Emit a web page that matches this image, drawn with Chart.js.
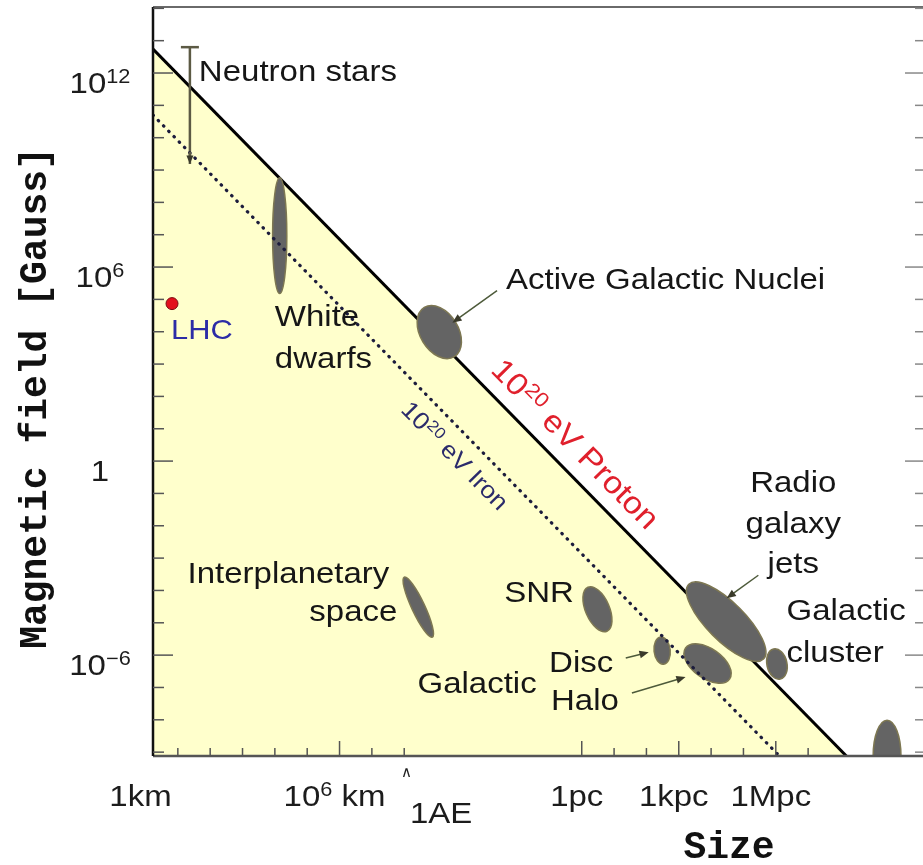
<!DOCTYPE html>
<html>
<head>
<meta charset="utf-8">
<script src="https://cdn.jsdelivr.net/npm/chart.js@4.4.0/dist/chart.umd.min.js"></script>
<style>
  html, body { margin: 0; padding: 0; background: #fff; overflow: hidden; }
  #wrap { width: 930px; height: 865px; }
</style>
</head>
<body>
<div id="wrap"><canvas id="hillas" width="930" height="865"></canvas></div>
<script>
// axis ranges: size in km, field in Gauss (both log)
const sizeRange = [1.706, 1.1e24];
const fieldRange = [7.6e-10, 1.1e14];

// 10^20 eV limits
const protonLine = [{x: 1.706, y: 5.5e12}, {x: 4.7e21, y: 7.6e-10}];
const ironLine = [{x: 1.706, y: 5.0e10}, {x: 4.0e19, y: 7.6e-10}];

const lhc = [{x: 6.6, y: 7.4e4}];
const neutronStars = [{x: 23.6, y: 6.3e12}, {x: 23.6, y: 1.55e9}];

// source regions, major axis ends in log10(km), log10(G); half width in decades
const regionNames  = ['White dwarfs', 'AGN', 'Interplanetary space', 'SNR', 'Disc', 'Halo', 'Radio galaxy jets', 'Galactic cluster', 'Supercluster'];
const regionSizeA  = [4.15, 8.62, 8.00, 13.68, 15.93, 16.70, 16.80, 19.42, 22.93];
const regionFieldA = [8.76, 4.75, -3.59, -3.90, -5.44, -5.78, -3.81, -5.81, -8.01];
const regionSizeB  = [4.15, 9.55, 8.87, 14.27, 16.02, 18.06, 19.11, 19.63, 22.93];
const regionFieldB = [5.18, 3.23, -5.44, -5.26, -6.28, -6.74, -6.12, -6.74, -10.23];
const regionWidth  = [0.22, 0.59, 0.20, 0.37, 0.25, 0.46, 0.59, 0.31, 0.43];

// pointer arrows (log10 km, log10 G), tail -> head
const pointerFrom = [[10.87, 5.27], [18.95, -3.53], [14.85, -6.09], [15.04, -7.17]];
const pointerTo   = [[9.49, 4.28], [17.97, -4.24], [15.56, -5.91], [16.70, -6.68]];

// ticks
const yMajorTicks = [1e12, 1e6, 1, 1e-6];
const yTickLabels = ['10^{12}', '10^{6}', '1', '10^{\u22126}'];
const yMinorTicks = [1e-9, 1e-8, 1e-7, 1e-6, 1e-5, 1e-4, 1e-3, 1e-2, 1e-1, 1, 1e1, 1e2, 1e3, 1e4, 1e5, 1e6, 1e7, 1e8, 1e9, 1e10, 1e11, 1e12, 1e13, 1e14];
const pc = 3.086e13;
const AU = 1.496e8;
const xMinorTicks = [1e1, 1e2, 1e3, 1e4, 1e5, 1e6, 1e7, 1e8, pc, pc*1e1, pc*1e2, pc*1e3, pc*1e4, pc*1e5, pc*1e6, pc*1e7];
const xMajorTicks = [1e6, pc, pc*1e3, pc*1e6];
const xTickValues = [1, 1e6, pc, pc*1e3, pc*1e6];
const xTickLabels = ['1km', '10^{6} km', '1pc', '1kpc', '1Mpc'];

const L = v => Math.pow(10, v);
const SANS = '"Liberation Sans", Arial, sans-serif';
const MONO = '"Liberation Mono", "DejaVu Sans Mono", monospace';

// text with ^{...} superscripts, slightly widened like the original
function drawRich(ctx, str, x, y, o) {
  const size = o.size || 30;
  const parts = [];
  str.split(/(\^\{[^}]*\})/).forEach(s => {
    if (!s) return;
    if (s.startsWith('^{')) parts.push({t: s.slice(2, -1), sup: true});
    else parts.push({t: s, sup: false});
  });
  ctx.save();
  ctx.translate(x, y);
  if (o.angle) ctx.rotate(o.angle);
  ctx.scale(o.stretch || 1.1, 1);
  let w = 0;
  parts.forEach(p => {
    ctx.font = (o.weight || '') + ' ' + (p.sup ? size * 0.66 : size) + 'px ' + (o.family || SANS);
    p.w = ctx.measureText(p.t).width;
    w += p.w;
  });
  let cx = o.align === 'center' ? -w / 2 : o.align === 'right' ? -w : 0;
  const dy = o.middle ? size * 0.36 : 0;
  ctx.fillStyle = o.color || '#161616';
  ctx.textBaseline = 'alphabetic';
  parts.forEach(p => {
    ctx.font = (o.weight || '') + ' ' + (p.sup ? size * 0.66 : size) + 'px ' + (o.family || SANS);
    ctx.fillText(p.t, cx, dy + (p.sup ? -size * 0.33 : 0));
    cx += p.w;
  });
  ctx.restore();
}

function arrow(ctx, x1, y1, x2, y2, head) {
  const a = Math.atan2(y2 - y1, x2 - x1);
  ctx.beginPath();
  ctx.moveTo(x1, y1);
  ctx.lineTo(x2 - Math.cos(a) * head * 0.6, y2 - Math.sin(a) * head * 0.6);
  ctx.stroke();
  ctx.beginPath();
  ctx.moveTo(x2, y2);
  ctx.lineTo(x2 - head * Math.cos(a - 0.4), y2 - head * Math.sin(a - 0.4));
  ctx.lineTo(x2 - head * Math.cos(a + 0.4), y2 - head * Math.sin(a + 0.4));
  ctx.closePath();
  ctx.fill();
}

const labels = [
  {t: 'Neutron stars', r: 1.65, b: 11.75},
  {t: 'Active Galactic Nuclei', r: 11.15, b: 5.33},
  {t: 'White', r: 4.0, b: 4.19},
  {t: 'dwarfs', r: 4.0, b: 2.89},
  {t: 'LHC', r: 0.79, b: 3.76, color: '#2c2ca6', size: 28},
  {t: 'Interplanetary', r: 7.54, b: -3.78, align: 'right'},
  {t: 'space', r: 7.79, b: -4.95, align: 'right'},
  {t: 'Galactic', r: 8.41, b: -7.17},
  {t: 'SNR', r: 11.09, b: -4.36},
  {t: 'Disc', r: 12.48, b: -6.52},
  {t: 'Halo', r: 12.54, b: -7.70},
  {t: 'Radio', r: 20.03, b: -0.97, align: 'center'},
  {t: 'galaxy', r: 20.03, b: -2.23, align: 'center'},
  {t: 'jets', r: 20.03, b: -3.47, align: 'center'},
  {t: 'Galactic', r: 19.82, b: -4.92},
  {t: 'cluster', r: 19.82, b: -6.22}
];

const hillasDecor = {
  id: 'hillasDecor',
  afterDatasetDraw(chart, args) {
    if (args.index !== 0) return;
    const ctx = chart.ctx, xs = chart.scales.x, ys = chart.scales.y, ca = chart.chartArea;
    const perDec = ys.getPixelForValue(1) - ys.getPixelForValue(10);
    ctx.save();
    ctx.beginPath();
    ctx.rect(ca.left, ca.top, ca.right - ca.left, ca.bottom - ca.top);
    ctx.clip();
    regionNames.forEach((n, i) => {
      const x1 = xs.getPixelForValue(L(regionSizeA[i])), y1 = ys.getPixelForValue(L(regionFieldA[i]));
      const x2 = xs.getPixelForValue(L(regionSizeB[i])), y2 = ys.getPixelForValue(L(regionFieldB[i]));
      ctx.beginPath();
      ctx.ellipse((x1 + x2) / 2, (y1 + y2) / 2, Math.hypot(x2 - x1, y2 - y1) / 2, regionWidth[i] * perDec,
        Math.atan2(y2 - y1, x2 - x1), 0, Math.PI * 2);
      ctx.fillStyle = '#646464';
      ctx.fill();
      ctx.strokeStyle = '#7d7752';
      ctx.lineWidth = 1.5;
      ctx.stroke();
    });
    ctx.restore();
  },
  afterDraw(chart) {
    const ctx = chart.ctx, xs = chart.scales.x, ys = chart.scales.y;
    const {left, right, top, bottom} = chart.chartArea;
    ctx.save();

    // frame
    ctx.lineWidth = 2;
    ctx.strokeStyle = '#6a6a6a';
    ctx.beginPath(); ctx.moveTo(left, top); ctx.lineTo(right, top); ctx.stroke();
    ctx.lineWidth = 2.5;
    ctx.strokeStyle = '#555';
    ctx.beginPath(); ctx.moveTo(left, bottom); ctx.lineTo(right, bottom); ctx.stroke();
    ctx.strokeStyle = '#111';
    ctx.beginPath(); ctx.moveTo(left, top); ctx.lineTo(left, bottom); ctx.stroke();

    // inward ticks
    ctx.lineWidth = 1.5;
    yMinorTicks.forEach(v => {
      const py = ys.getPixelForValue(v);
      const major = yMajorTicks.includes(v);
      ctx.strokeStyle = '#555';
      ctx.beginPath(); ctx.moveTo(left, py); ctx.lineTo(left + (major ? 20 : 11), py); ctx.stroke();
      ctx.strokeStyle = '#888';
      ctx.beginPath(); ctx.moveTo(right, py); ctx.lineTo(right - (major ? 18 : 8), py); ctx.stroke();
    });
    ctx.strokeStyle = '#555';
    xMinorTicks.forEach(v => {
      const px = xs.getPixelForValue(v);
      const major = xMajorTicks.includes(v);
      ctx.beginPath(); ctx.moveTo(px, bottom); ctx.lineTo(px, bottom - (major ? 15 : 8)); ctx.stroke();
    });

    // tick labels
    yMajorTicks.forEach((v, i) => {
      drawRich(ctx, yTickLabels[i], 100, ys.getPixelForValue(v) + 20, {size: 30, align: 'center', color: '#1c1c1c'});
    });
    xTickValues.forEach((v, i) => {
      drawRich(ctx, xTickLabels[i], xs.getPixelForValue(v) - 5, 806, {size: 30, align: 'center', color: '#1c1c1c'});
    });
    const auX = xs.getPixelForValue(AU);
    drawRich(ctx, '\u2227', auX - 3, 777, {size: 15, align: 'center', color: '#222', stretch: 1});
    drawRich(ctx, '1AE', auX, 823, {size: 30, color: '#1c1c1c'});

    // axis titles
    ctx.save();
    ctx.translate(36, 398);
    ctx.rotate(-Math.PI / 2);
    ctx.font = 'bold 38px ' + MONO;
    ctx.fillStyle = '#111';
    ctx.textAlign = 'center';
    ctx.textBaseline = 'middle';
    ctx.fillText('Magnetic field [Gauss]', 0, 0);
    ctx.restore();
    ctx.font = 'bold 38px ' + MONO;
    ctx.fillStyle = '#111';
    ctx.textAlign = 'center';
    ctx.fillText('Size', 729, 858);
    ctx.textAlign = 'left';

    // neutron star range: cap and arrow
    const nx = xs.getPixelForValue(neutronStars[0].x);
    const nTop = ys.getPixelForValue(neutronStars[0].y);
    const nBot = ys.getPixelForValue(neutronStars[1].y);
    ctx.strokeStyle = '#5c5a44';
    ctx.fillStyle = '#3a3a2a';
    ctx.lineWidth = 2.5;
    ctx.beginPath(); ctx.moveTo(nx - 9, nTop); ctx.lineTo(nx + 9, nTop); ctx.stroke();
    arrow(ctx, nx, nBot - 12, nx, nBot, 9);

    // pointers
    ctx.lineWidth = 1.5;
    ctx.strokeStyle = '#4d5a3a';
    pointerFrom.forEach((p, i) => {
      const q = pointerTo[i];
      arrow(ctx, xs.getPixelForValue(L(p[0])), ys.getPixelForValue(L(p[1])),
        xs.getPixelForValue(L(q[0])), ys.getPixelForValue(L(q[1])), 10);
    });

    // source labels
    labels.forEach(l => {
      drawRich(ctx, l.t, xs.getPixelForValue(L(l.r)), ys.getPixelForValue(L(l.b)),
        {size: l.size || 30, align: l.align || 'left', color: l.color || '#161616'});
    });

    // limit line labels, rotated along the lines
    const pAng = Math.atan2(ys.getPixelForValue(protonLine[1].y) - ys.getPixelForValue(protonLine[0].y),
      xs.getPixelForValue(protonLine[1].x) - xs.getPixelForValue(protonLine[0].x));
    drawRich(ctx, '10^{20} eV Proton', xs.getPixelForValue(L(13.31)), ys.getPixelForValue(L(0.55)),
      {size: 31, align: 'center', middle: true, angle: pAng, color: '#e0202c'});
    const iAng = Math.atan2(ys.getPixelForValue(ironLine[1].y) - ys.getPixelForValue(ironLine[0].y),
      xs.getPixelForValue(ironLine[1].x) - xs.getPixelForValue(ironLine[0].x));
    drawRich(ctx, '10^{20} eV Iron', xs.getPixelForValue(L(9.58)), ys.getPixelForValue(L(0.18)),
      {size: 24, align: 'center', middle: true, angle: iAng, color: '#2b2b6b'});

    ctx.restore();
  }
};

new Chart(document.getElementById('hillas'), {
  type: 'line',
  data: {
    datasets: [
      {
        label: '10^20 eV Proton',
        data: protonLine,
        borderColor: '#000',
        borderWidth: 3,
        backgroundColor: '#ffffcc',
        fill: 'start',
        pointRadius: 0,
        order: 3
      },
      {
        label: '10^20 eV Iron',
        data: ironLine,
        borderColor: '#1c1c3c',
        borderWidth: 3.2,
        borderDash: [0.5, 7],
        borderCapStyle: 'round',
        fill: false,
        pointRadius: 0,
        order: 2
      },
      {
        label: 'Neutron stars',
        data: neutronStars,
        borderColor: '#5c5a44',
        borderWidth: 2.5,
        fill: false,
        pointRadius: 0,
        order: 2
      },
      {
        type: 'scatter',
        label: 'LHC',
        data: lhc,
        pointRadius: 6,
        backgroundColor: '#e3101c',
        borderColor: '#7a0a10',
        borderWidth: 1,
        order: 1
      }
    ]
  },
  options: {
    responsive: false,
    animation: false,
    events: [],
    layout: { padding: { left: 153, top: 6, right: 5, bottom: 109 } },
    scales: {
      x: { type: 'logarithmic', min: sizeRange[0], max: sizeRange[1], bounds: 'data', display: false },
      y: { type: 'logarithmic', min: fieldRange[0], max: fieldRange[1], bounds: 'data', display: false }
    },
    plugins: {
      legend: { display: false },
      tooltip: { enabled: false }
    }
  },
  plugins: [hillasDecor]
});
</script>
</body>
</html>
